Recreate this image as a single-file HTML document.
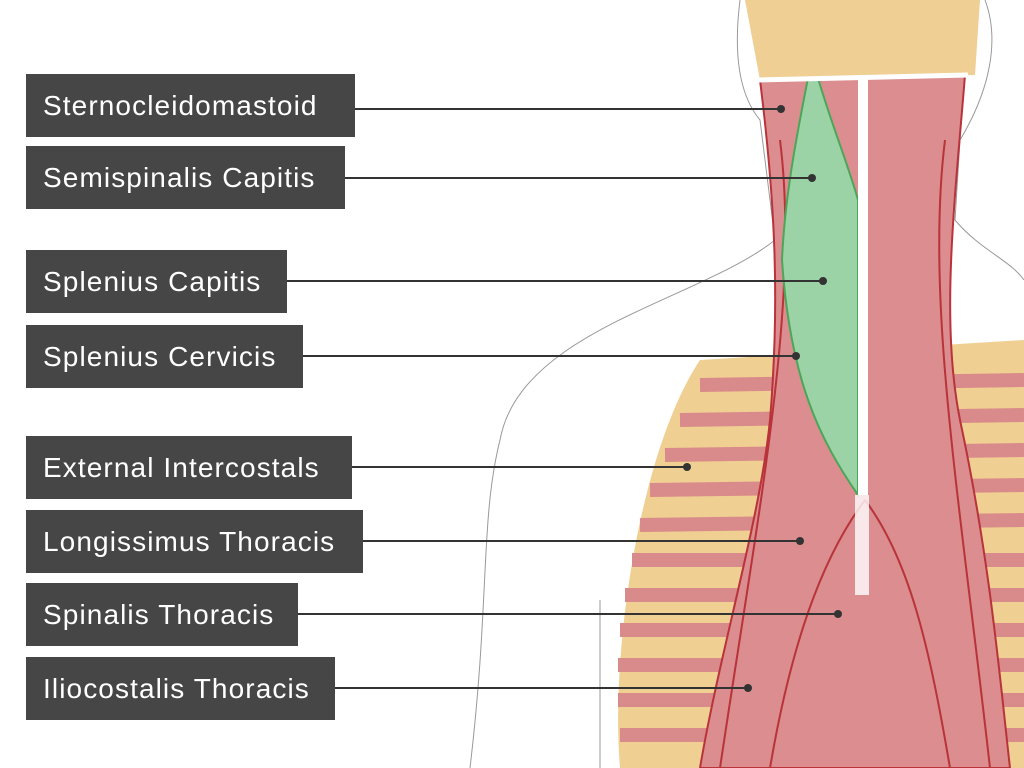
<!DOCTYPE html>
<html><head><meta charset="utf-8"><style>
body{margin:0;width:1024px;height:768px;overflow:hidden;background:#fff;font-family:"Liberation Sans",sans-serif;position:relative}
.l{position:absolute;left:26px;height:63px;background:#464646;color:#fff;font-size:28px;letter-spacing:1.1px;line-height:63px;padding-left:17px;box-sizing:border-box;white-space:nowrap}
svg{position:absolute;left:0;top:0}
</style></head><body>
<svg width="1024" height="768">
<path d="M740 0 C735 40 735 90 760 120 L775 240 C700 300 520 330 500 440 C480 520 490 600 470 768" fill="none" stroke="#999" stroke-width="1"/>
<path d="M985 0 C1000 40 990 90 960 140 L955 220 C980 250 1010 260 1024 280" fill="none" stroke="#999" stroke-width="1"/>
<path d="M600 600 L600 768" stroke="#999" fill="none"/>
<path d="M745 0 L980 0 L975 75 L760 80 Z" fill="#efcf94"/>
<path d="M700 360 L1024 340 L1024 768 L620 768 C610 650 640 450 700 360Z" fill="#f0cf92"/>
<g stroke="#d98a8a" stroke-width="14" fill="none">
<path d="M700 385 L1024 380"/><path d="M680 420 L1024 415"/><path d="M665 455 L1024 450"/><path d="M650 490 L1024 485"/><path d="M640 525 L1024 520"/><path d="M632 560 L1024 560"/><path d="M625 595 L1024 595"/><path d="M620 630 L1024 630"/><path d="M618 665 L1024 665"/><path d="M618 700 L1024 700"/><path d="M620 735 L1024 735"/>
</g>
<path d="M760 80 L965 75 C955 200 940 320 960 420 C990 560 1000 680 1010 768 L700 768 C720 650 760 520 770 420 C780 300 775 200 760 80Z" fill="#db8d8f" stroke="#b8333a" stroke-width="2"/>
<path d="M780 140 C800 300 760 500 720 768" stroke="#b8333a" stroke-width="2" fill="none"/>
<path d="M945 140 C925 300 960 500 990 768" stroke="#b8333a" stroke-width="2" fill="none"/>
<path d="M865 500 C820 560 790 650 770 768 M865 500 C910 560 930 650 950 768" stroke="#b8333a" stroke-width="2" fill="none"/>
<path d="M808 78 L818 78 C830 120 850 170 858 200 L858 495 C820 440 790 380 782 260 C785 190 800 120 808 78Z" fill="#9bd3a6" stroke="#4ca65a" stroke-width="2"/>
<rect x="858" y="75" width="10" height="420" fill="#fff"/>
<rect x="855" y="495" width="14" height="100" fill="#fff" opacity=".8"/>
<path d="M758 80 L968 75" stroke="#fff" stroke-width="5"/>
<g stroke="#333" stroke-width="2">
<line x1="355" y1="109" x2="781" y2="109"/>
<line x1="345" y1="178" x2="812" y2="178"/>
<line x1="287" y1="281" x2="823" y2="281"/>
<line x1="303" y1="356" x2="796" y2="356"/>
<line x1="352" y1="467" x2="687" y2="467"/>
<line x1="363" y1="541" x2="800" y2="541"/>
<line x1="298" y1="614" x2="838" y2="614"/>
<line x1="335" y1="688" x2="748" y2="688"/>
</g>
<g fill="#333">
<circle cx="781" cy="109" r="4"/><circle cx="812" cy="178" r="4"/><circle cx="823" cy="281" r="4"/><circle cx="796" cy="356" r="4"/><circle cx="687" cy="467" r="4"/><circle cx="800" cy="541" r="4"/><circle cx="838" cy="614" r="4"/><circle cx="748" cy="688" r="4"/>
</g>
</svg>
<div class="l" style="top:74px;width:329px">Sternocleidomastoid</div>
<div class="l" style="top:146px;width:319px">Semispinalis Capitis</div>
<div class="l" style="top:250px;width:261px">Splenius Capitis</div>
<div class="l" style="top:325px;width:277px">Splenius Cervicis</div>
<div class="l" style="top:436px;width:326px">External Intercostals</div>
<div class="l" style="top:510px;width:337px">Longissimus Thoracis</div>
<div class="l" style="top:583px;width:272px">Spinalis Thoracis</div>
<div class="l" style="top:657px;width:309px">Iliocostalis Thoracis</div>
</body></html>
